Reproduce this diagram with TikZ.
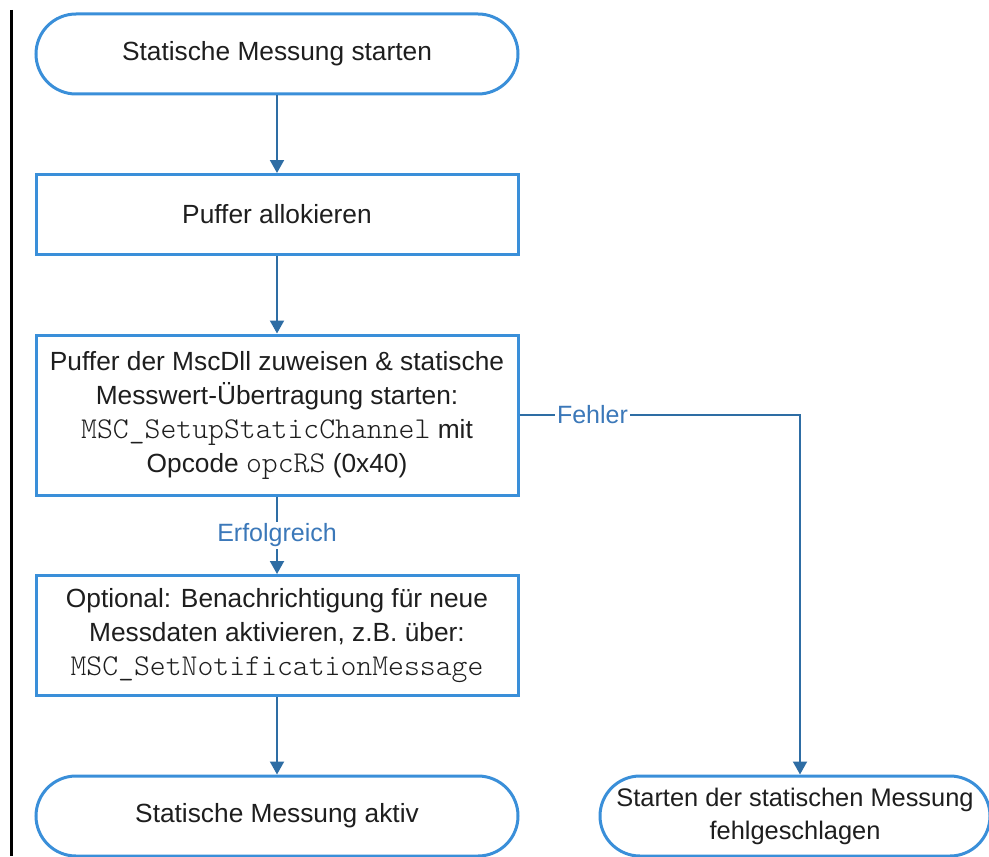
\documentclass[tikz,border=0pt]{standalone}
\usepackage{fontspec}
\setmainfont{Liberation Sans}
\setmonofont[Scale=1.15]{lmmonolt10-regular.otf}
\usetikzlibrary{arrows.meta,positioning}
\definecolor{shapeblue}{HTML}{3A8FD9}
\definecolor{linkblue}{HTML}{2E6DA4}
\definecolor{labelblue}{HTML}{3B78B9}
\definecolor{textdark}{HTML}{1E1E1E}

\begin{document}
\begin{tikzpicture}[
    node distance=38.75pt,
    every node/.style={font=\fontsize{13.15}{17}\selectfont, text=textdark},
    terminal/.style={draw=shapeblue, line width=1.5pt, fill=white, rounded corners=20pt,
        minimum width=241pt, minimum height=40pt, align=center, inner sep=2pt},
    process/.style={draw=shapeblue, line width=1.5pt, fill=white,
        minimum width=241pt, align=center},
    link/.style={draw=linkblue, line width=1pt, -{Triangle[length=6.5pt,width=7pt]}},
    linklabel/.style={fill=white, text=labelblue, font=\fontsize{12.5}{15}\selectfont, inner sep=1pt},
]
\useasboundingbox (0,0) rectangle (494.5pt,-428pt);
\draw[line width=1.5pt] (5.75pt,-5pt) -- (5.75pt,-428pt);

\node[terminal] (start) at (138.5pt,-27pt) {Statische Messung starten};
\node[process, minimum height=40pt, below=of start] (alloc) {Puffer allokieren};
\node[process, minimum height=80pt, below=of alloc] (assign) {Puffer der MscDll zuweisen \& statische\\
    Messwert-Übertragung starten:\\
    \texttt{MSC\_SetupStaticChannel} mit\\
    Opcode \texttt{opcRS} (0x40)};
\node[process, minimum height=60pt, below=of assign] (opt) {Optional: Benachrichtigung für neue\\
    Messdaten aktivieren, z.B. über:\\
    \texttt{MSC\_SetNotificationMessage}};
\node[terminal, below=of opt] (done) {Statische Messung aktiv};
\node[terminal, minimum width=195pt, font=\fontsize{12.7}{16.5}\selectfont,
    right=39.5pt of done] (fail) {Starten der statischen Messung\\
    fehlgeschlagen};

\draw[link] (start) -- (alloc);
\draw[link] (alloc) -- (assign);
\draw[link] (assign) -- node[linklabel] {Erfolgreich} (opt);
\draw[link] (opt) -- (done);
\draw[link] (assign.east) -| node[linklabel, pos=0.13] {Fehler} ([xshift=2.5pt]fail.north);
\end{tikzpicture}
\end{document}
